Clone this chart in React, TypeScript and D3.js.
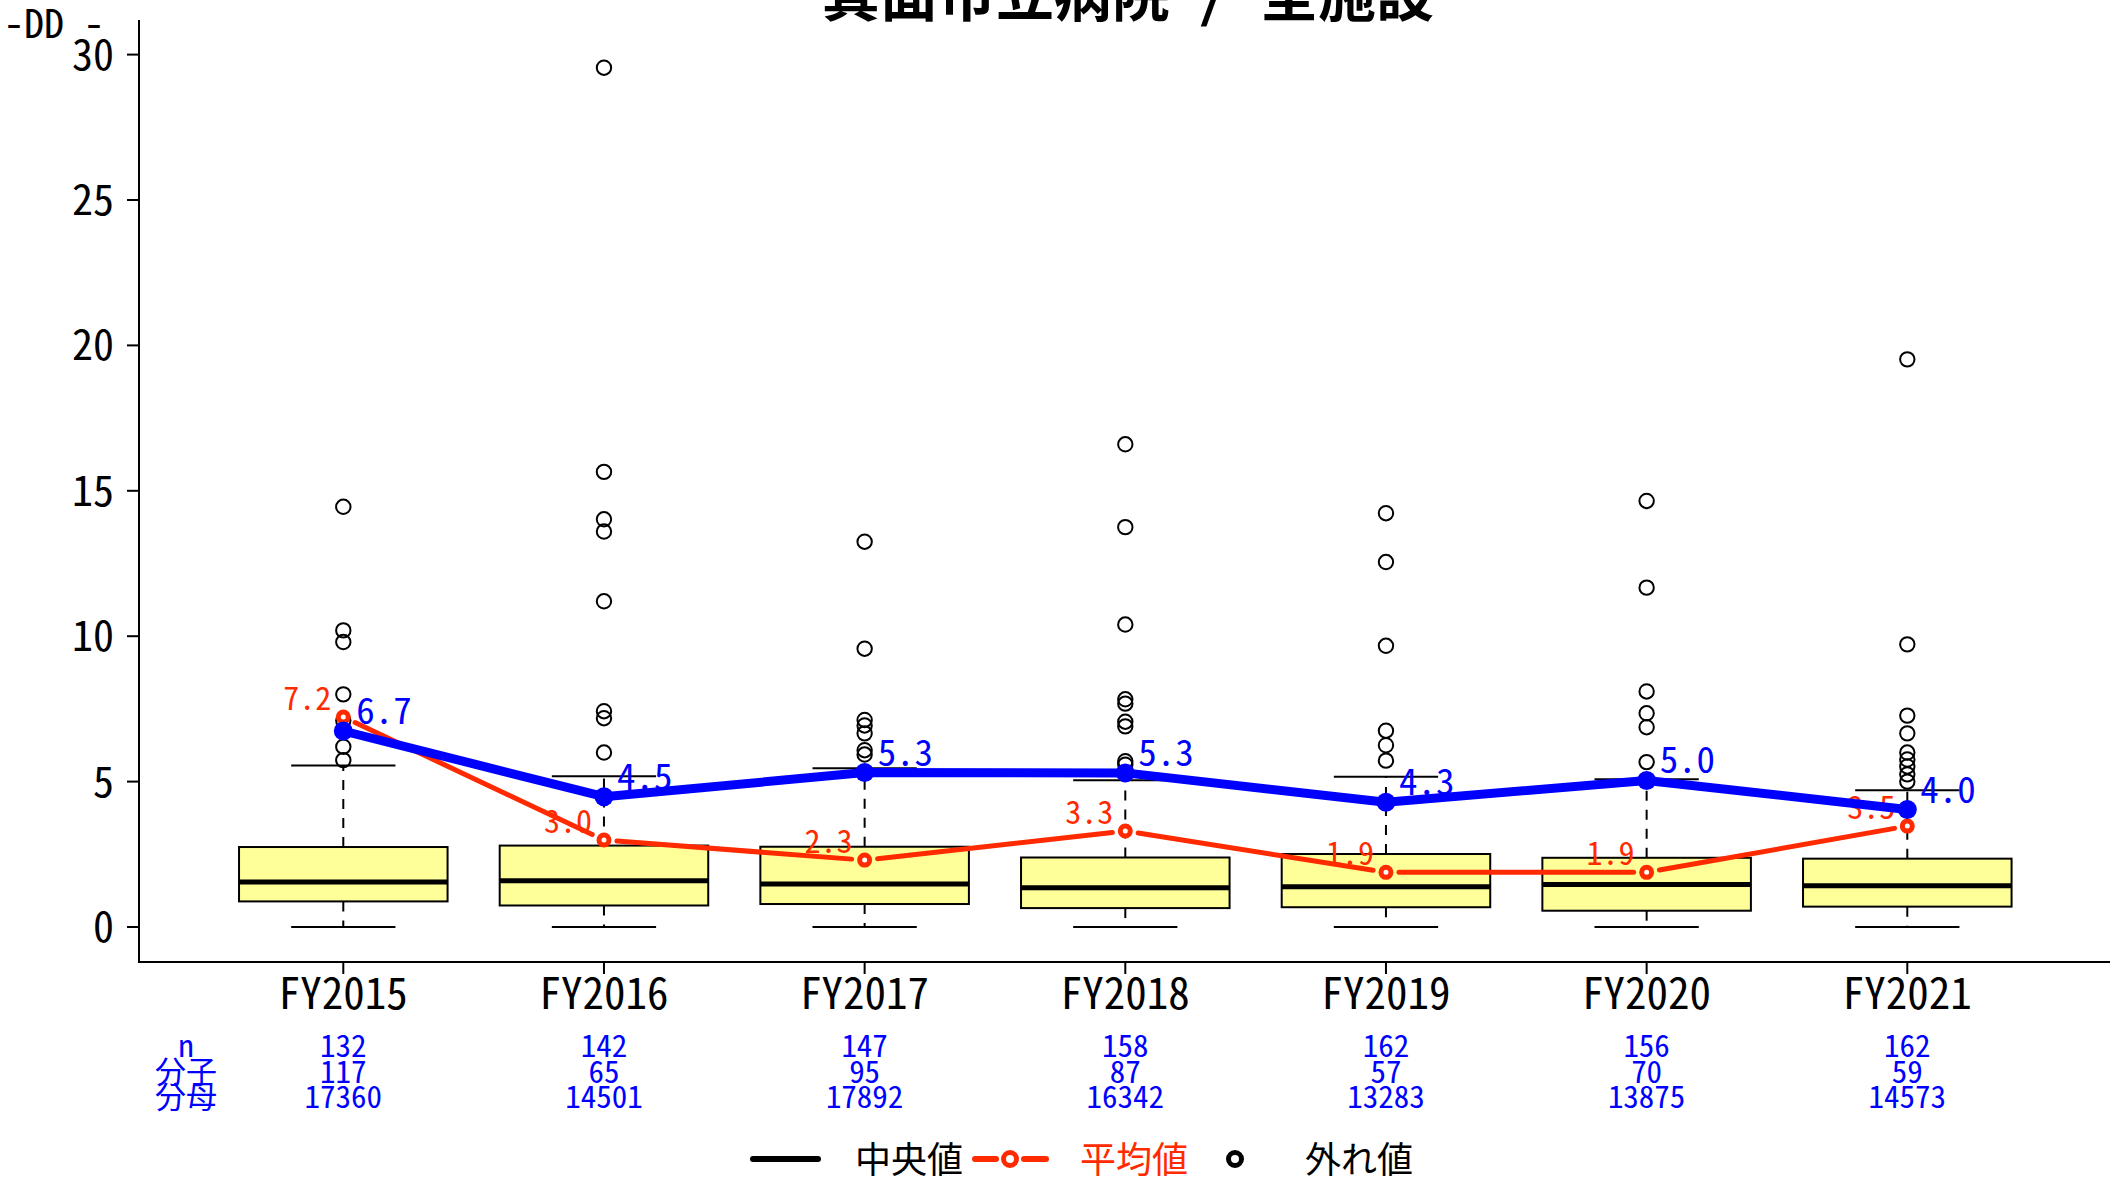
import React from 'react';
import * as d3 from 'd3';

const categories = ['FY2015', 'FY2016', 'FY2017', 'FY2018', 'FY2019', 'FY2020', 'FY2021'];
const lowerWhisker = [0, 0, 0, 0, 0, 0, 0];
const q1 = [0.88, 0.74, 0.79, 0.65, 0.68, 0.56, 0.7];
const median = [1.55, 1.59, 1.48, 1.35, 1.38, 1.46, 1.42];
const q3 = [2.75, 2.8, 2.76, 2.39, 2.51, 2.38, 2.35];
const upperWhisker = [5.55, 5.18, 5.46, 5.05, 5.17, 5.08, 4.7];
const outliers = [
  [14.45, 10.2, 9.8, 8.0, 7.1, 6.2, 5.74],
  [29.55, 15.65, 14.02, 13.6, 11.2, 7.42, 7.18, 6.0],
  [13.25, 9.57, 7.12, 6.93, 6.66, 6.08, 5.93],
  [16.6, 13.75, 10.4, 7.83, 7.68, 7.06, 6.9, 5.7, 5.58],
  [14.23, 12.55, 9.67, 6.75, 6.25, 5.72],
  [14.65, 11.67, 8.1, 7.35, 6.87, 5.67],
  [19.52, 9.72, 7.27, 6.66, 6.0, 5.76, 5.52, 5.25, 5.0],
];
const blueMean = [6.74, 4.48, 5.31, 5.3, 4.29, 5.04, 4.04];
const redMean = [7.22, 2.99, 2.3, 3.3, 1.88, 1.88, 3.47];
const nValues = [132, 142, 147, 158, 162, 156, 162];
const numerators = [117, 65, 95, 87, 57, 70, 59];
const denominators = [17360, 14501, 17892, 16342, 13283, 13875, 14573];
const tableLabels = ['n', '分子', '分母'];
const titleParts = ['箕面市立病院', '/', '全施設'];
const legendLabels = ['中央値', '平均値', '外れ値'];

const FONT = "'Noto Sans Mono CJK JP', 'Noto Sans CJK JP', 'Liberation Sans', sans-serif";
const BLUE = '#0000FF';
const RED = '#FF2A00';
const BOXFILL = '#FFFF99';

export default function App() {
  const W = 2118;
  const H = 1181;
  const x = d3.scalePoint<string>().domain(categories).range([343.3, 1907.3]);
  const y = d3.scaleLinear().domain([0, 30]).range([927, 54.6]);
  const step = x.step();
  const boxW = step * 0.8;
  const capW = boxW / 2;
  const yTicks = y.ticks(6);
  const axisX = 139;
  const axisY = 962;

  const bluePts: [number, number][] = categories.map((c, i) => [x(c) as number, y(blueMean[i])]);
  const redPts: [number, number][] = categories.map((c, i) => [x(c) as number, y(redMean[i])]);
  const blueLine = d3.line()(bluePts) || '';
  const gap = 13;
  const redSegs = redPts.slice(0, -1).map((p, i) => {
    const q = redPts[i + 1];
    const dx = q[0] - p[0];
    const dy = q[1] - p[1];
    const len = Math.hypot(dx, dy);
    const ux = dx / len;
    const uy = dy / len;
    return [p[0] + ux * gap, p[1] + uy * gap, q[0] - ux * gap, q[1] - uy * gap];
  });

  const tableRows = [nValues, numerators, denominators];
  const rowBase = [1057, 1083, 1108];

  return (
    <svg width={W} height={H} style={{ position: 'absolute', left: 0, top: 0, background: '#fff' }}
      fontFamily={FONT}>
      <rect x={0} y={0} width={W} height={H} fill="#fff" />
      {/* title */}
      <text y={16} fontSize={58} fontWeight="bold" fill="#000">
        <tspan x={1170} textAnchor="end">{titleParts[0]}</tspan>
        <tspan x={1214} textAnchor="middle">{' ' + titleParts[1] + ' '}</tspan>
        <tspan x={1260} textAnchor="start">{titleParts[2]}</tspan>
      </text>
      {/* top-left label */}
      <text x={4} y={38} fontSize={40} fill="#000">-DD -</text>

      {/* axes */}
      <line x1={axisX} y1={20} x2={axisX} y2={axisY} stroke="#000" strokeWidth={2} />
      <line x1={axisX - 1} y1={axisY} x2={2110} y2={axisY} stroke="#000" strokeWidth={2} />
      {yTicks.map((t) => (
        <g key={t}>
          <line x1={127} x2={axisX} y1={y(t)} y2={y(t)} stroke="#000" strokeWidth={2} />
          <text x={114} y={y(t) + 15} fontSize={42} textAnchor="end" fill="#000">{t}</text>
        </g>
      ))}
      {categories.map((c) => (
        <g key={c}>
          <line x1={x(c)} x2={x(c)} y1={axisY} y2={974} stroke="#000" strokeWidth={2} />
          <text x={x(c)} y={1009} fontSize={43} textAnchor="middle" fill="#000">{c}</text>
        </g>
      ))}

      {/* boxplots */}
      {categories.map((c, i) => {
        const cx = x(c) as number;
        return (
          <g key={'b' + c}>
            <line x1={cx} x2={cx} y1={y(q3[i])} y2={y(upperWhisker[i])} stroke="#000" strokeWidth={2} strokeDasharray="10,9" />
            <line x1={cx} x2={cx} y1={y(q1[i])} y2={y(lowerWhisker[i])} stroke="#000" strokeWidth={2} strokeDasharray="10,9" />
            <line x1={cx - capW / 2} x2={cx + capW / 2} y1={y(upperWhisker[i])} y2={y(upperWhisker[i])} stroke="#000" strokeWidth={2} />
            <line x1={cx - capW / 2} x2={cx + capW / 2} y1={y(lowerWhisker[i])} y2={y(lowerWhisker[i])} stroke="#000" strokeWidth={2} />
            <rect x={cx - boxW / 2} y={y(q3[i])} width={boxW} height={y(q1[i]) - y(q3[i])} fill={BOXFILL} stroke="#000" strokeWidth={2} />
            <line x1={cx - boxW / 2} x2={cx + boxW / 2} y1={y(median[i])} y2={y(median[i])} stroke="#000" strokeWidth={5} />
            {outliers[i].map((v, j) => (
              <circle key={j} cx={cx} cy={y(v)} r={7.2} fill="none" stroke="#000" strokeWidth={2} />
            ))}
          </g>
        );
      })}

      {/* red mean line (type b) */}
      {redSegs.map((s, i) => (
        <line key={'rs' + i} x1={s[0]} y1={s[1]} x2={s[2]} y2={s[3]} stroke={RED} strokeWidth={5} strokeLinecap="round" />
      ))}
      {redPts.map((p, i) => (
        <circle key={'rp' + i} cx={p[0]} cy={p[1]} r={5} fill="#fff" stroke={RED} strokeWidth={5} />
      ))}
      {redPts.map((p, i) => (
        <text key={'rl' + i} x={p[0] - 12} y={p[1] - 7} fontSize={32} textAnchor="end" fill={RED}>
          {redMean[i].toFixed(1)}
        </text>
      ))}

      {/* blue line */}
      <path d={blueLine} fill="none" stroke={BLUE} strokeWidth={9} strokeLinejoin="round" />
      {bluePts.map((p, i) => (
        <circle key={'bp' + i} cx={p[0]} cy={p[1]} r={9.5} fill={BLUE} />
      ))}
      {bluePts.map((p, i) => (
        <text key={'bl' + i} x={p[0] + 13} y={p[1] - 7} fontSize={37} textAnchor="start" fill={BLUE}>
          {blueMean[i].toFixed(1)}
        </text>
      ))}

      {/* table */}
      {tableLabels.map((l, r) => (
        <text key={'tl' + r} x={186} y={rowBase[r]} fontSize={31} textAnchor="middle" fill={BLUE}>{l}</text>
      ))}
      {tableRows.map((row, r) =>
        row.map((v, i) => (
          <text key={'t' + r + '-' + i} x={x(categories[i])} y={rowBase[r]} fontSize={31} textAnchor="middle" fill={BLUE}>
            {v}
          </text>
        ))
      )}

      {/* legend */}
      <line x1={753} x2={818} y1={1159} y2={1159} stroke="#000" strokeWidth={6} strokeLinecap="round" />
      <text x={855} y={1173} fontSize={36} fill="#000">{legendLabels[0]}</text>
      <line x1={975} x2={996} y1={1159} y2={1159} stroke={RED} strokeWidth={6} strokeLinecap="round" />
      <line x1={1024} x2={1046} y1={1159} y2={1159} stroke={RED} strokeWidth={6} strokeLinecap="round" />
      <circle cx={1010} cy={1159} r={6.5} fill="#fff" stroke={RED} strokeWidth={5} />
      <text x={1080} y={1173} fontSize={36} fill={RED}>{legendLabels[1]}</text>
      <circle cx={1235} cy={1159} r={6.5} fill="#fff" stroke="#000" strokeWidth={5} />
      <text x={1305} y={1173} fontSize={36} fill="#000">{legendLabels[2]}</text>
    </svg>
  );
}
